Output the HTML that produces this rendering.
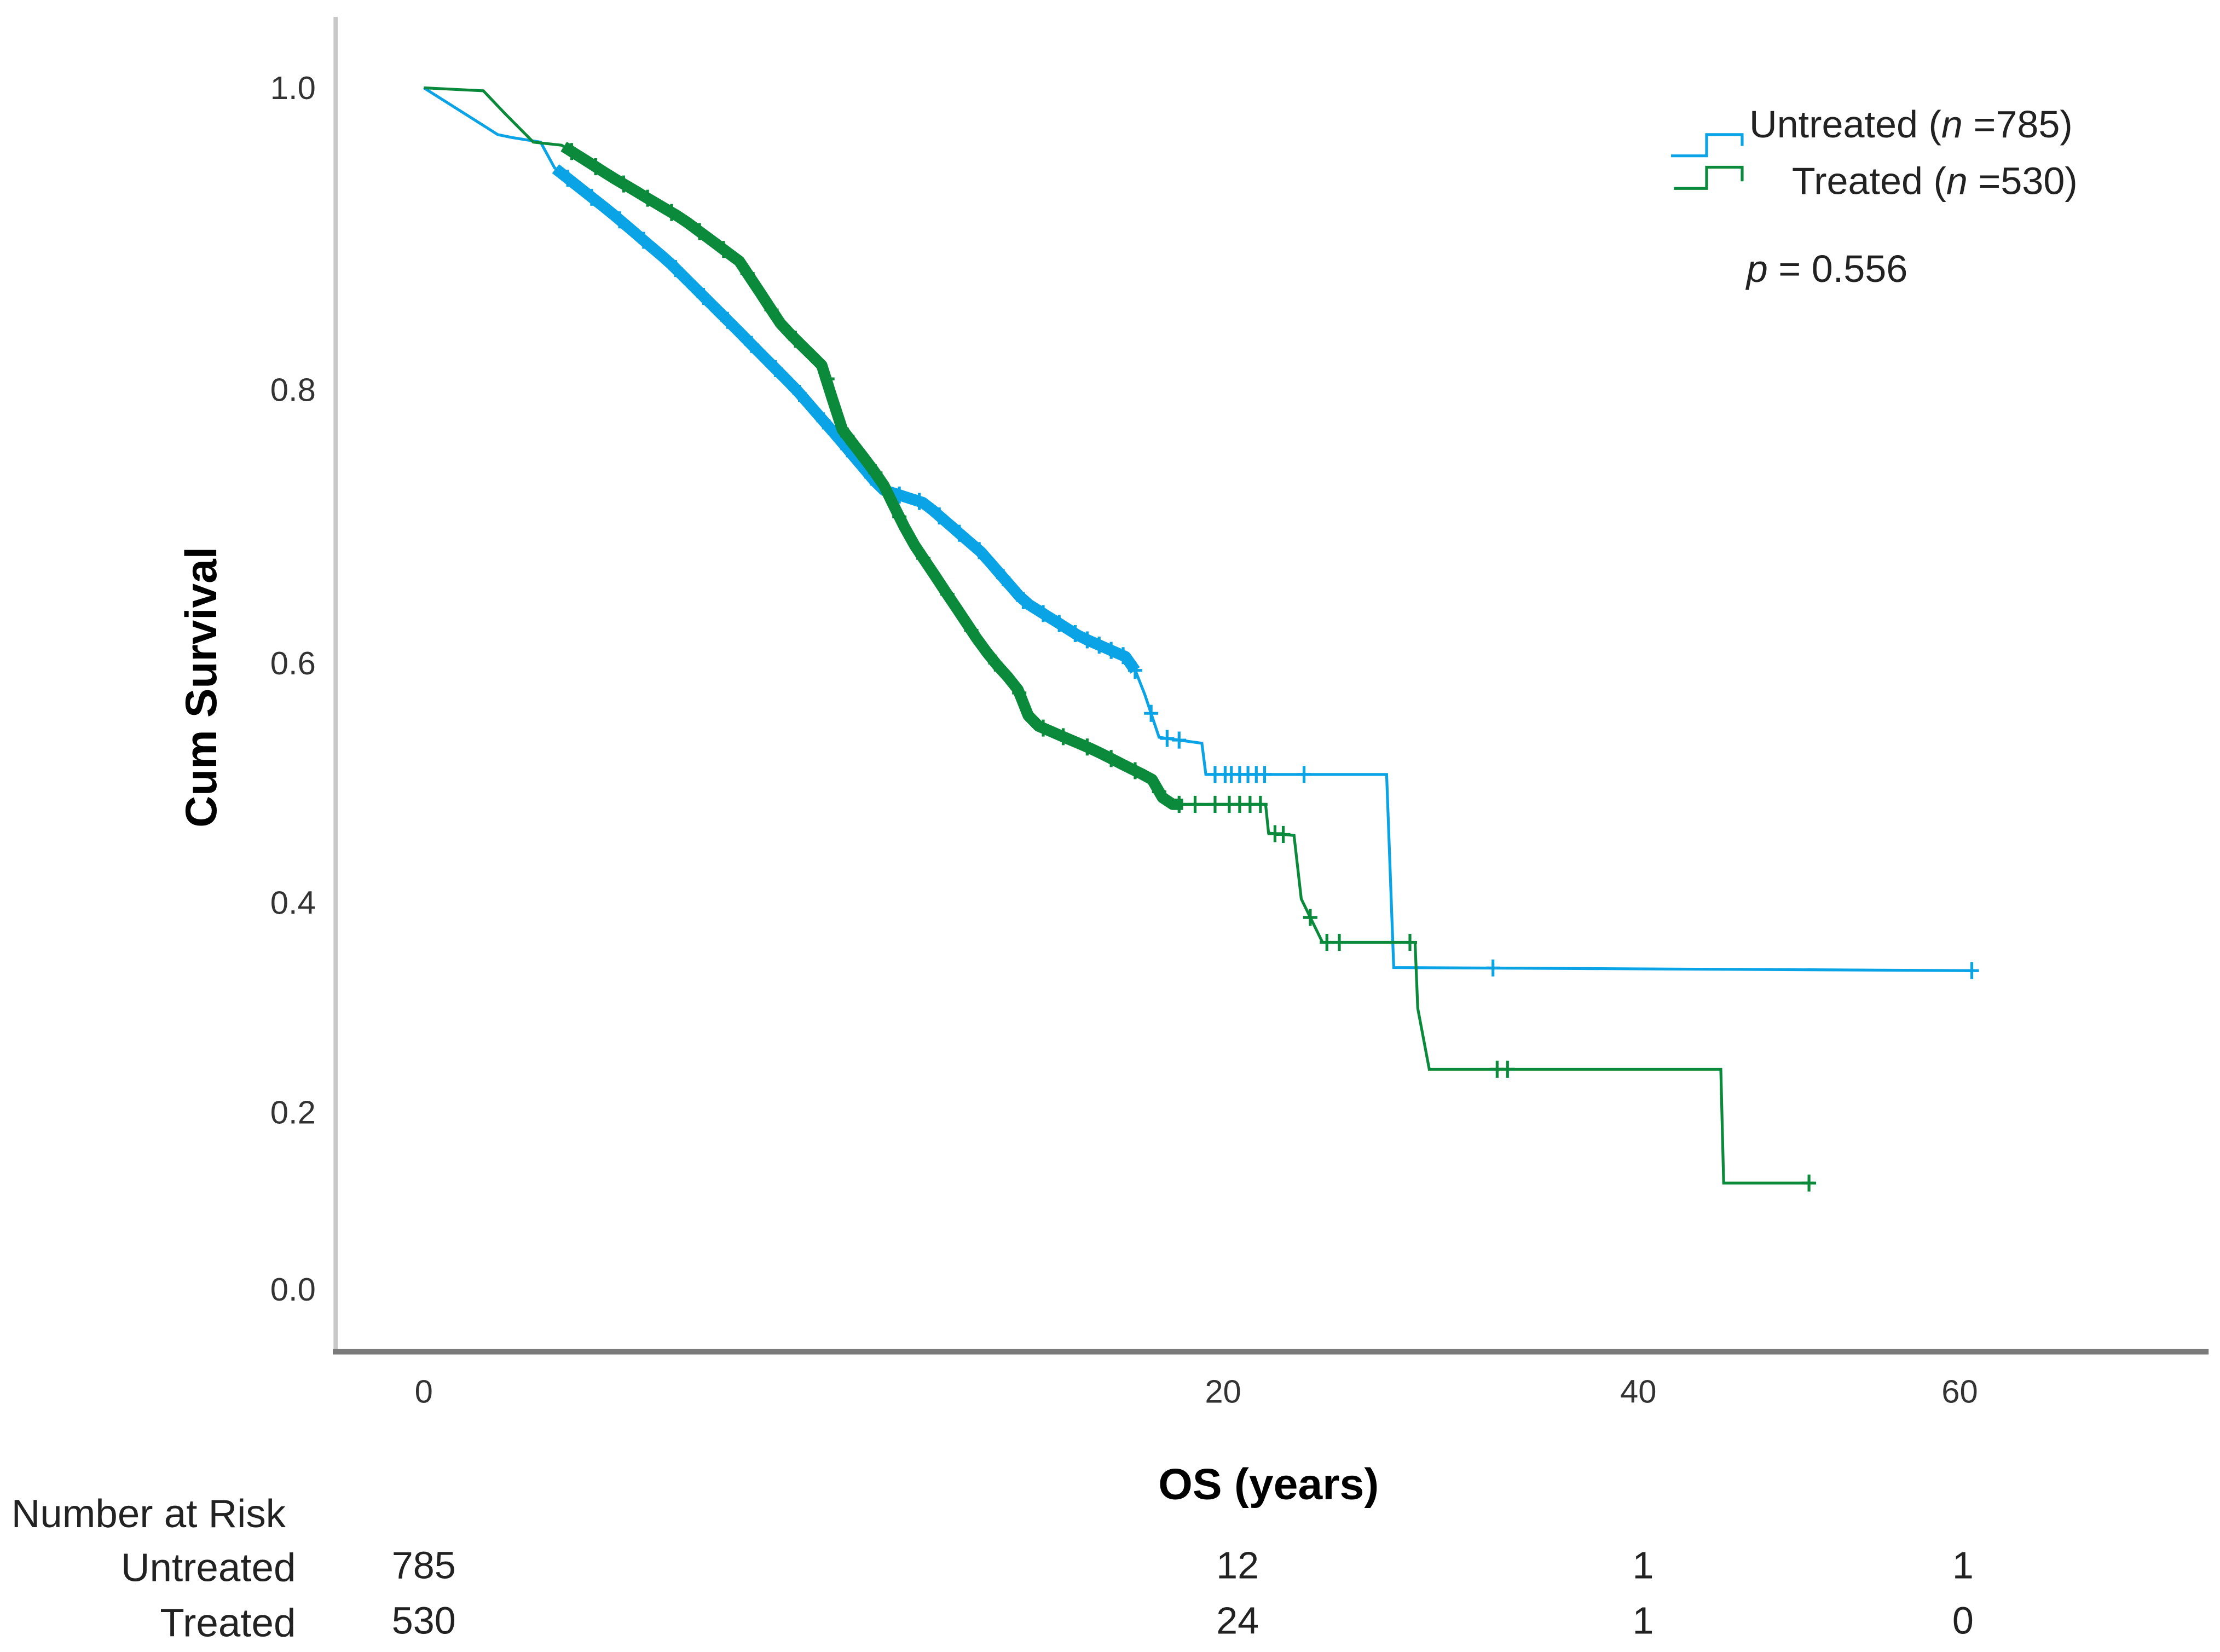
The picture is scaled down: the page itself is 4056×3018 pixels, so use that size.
<!DOCTYPE html>
<html><head><meta charset="utf-8"><style>
html,body{margin:0;padding:0;background:#fff;}
svg{display:block;}
text{font-family:"Liberation Sans Narrow","Liberation Sans",sans-serif;}
</style></head><body>
<svg id="chart" width="4056" height="3018" viewBox="0 0 1561 1166" preserveAspectRatio="none" xmlns="http://www.w3.org/2000/svg">
<rect x="0" y="0" width="1561" height="1166" fill="#fff"/>
<line x1="236" y1="12" x2="236" y2="954" stroke="#c8c8c8" stroke-width="3"/>
<line x1="234" y1="954" x2="1553" y2="954" stroke="#7a7a7a" stroke-width="4"/>
<g id="yticks"></g>
<g id="xticks"></g>
<text x="152" y="485" transform="rotate(-90 152 485)" text-anchor="middle" font-size="31" font-weight="bold" fill="#000">Cum Survival</text>
<text x="892" y="1058" text-anchor="middle" font-size="31" font-weight="bold" fill="#000">OS (years)</text>
<g id="curves"></g>
<g>
<path d="M1175,110 H1200 V95 H1225 V103" fill="none" stroke="#0aa3e6" stroke-width="2"/>
<text x="1230" y="97" font-size="27" fill="#222">Untreated (<tspan font-style="italic">n</tspan> =785)</text>
<path d="M1177,133 H1200 V118 H1225 V128" fill="none" stroke="#0a8a3a" stroke-width="2"/>
<text x="1260" y="137" font-size="27" fill="#222">Treated (<tspan font-style="italic">n</tspan> =530)</text>
<text x="1228" y="199" font-size="27" fill="#222"><tspan font-style="italic">p</tspan> = 0.556</text>
</g>
<g>
<text x="8" y="1078" font-size="28" fill="#222">Number at Risk</text>
<text x="208" y="1116" text-anchor="end" font-size="28" fill="#222">Untreated</text>
<text x="208" y="1155" text-anchor="end" font-size="28" fill="#222">Treated</text>
<g id="riskvals"></g>
</g>
</svg>
<script>
const yTickVals=[0.0,0.2,0.4,0.6,0.8,1.0];
const yTickLabels=["0.0","0.2","0.4","0.6","0.8","1.0"];
const xTickVals=[0,20,40,60];
const xTickLabels=["0","20","40","60"];
const untreatedTimes=[0,1.85,2.21,2.92,3.27,4.70,6.12,7.90,9.32,10.39,11.46,12.53,13.95,15.02,16.44,17.69,18.04,18.40,19.47,19.57,27.88,28.22,60.75];
const untreatedSurv=[1.0,0.969,0.967,0.964,0.947,0.917,0.885,0.838,0.80,0.764,0.727,0.717,0.681,0.645,0.619,0.603,0.574,0.538,0.533,0.507,0.507,0.338,0.335];
const treatedTimes=[0,1.49,2.03,2.74,3.45,4.70,6.48,7.90,8.97,10.04,10.39,11.46,12.17,12.88,13.95,14.84,15.20,16.80,18.22,18.58,22.05,22.19,23.42,23.77,24.79,29.25,29.38,29.93,45.13,45.31,50.62];
const treatedSurv=[1.0,0.998,0.983,0.964,0.962,0.941,0.913,0.885,0.842,0.814,0.774,0.733,0.691,0.660,0.613,0.580,0.550,0.527,0.503,0.482,0.482,0.458,0.456,0.403,0.362,0.362,0.299,0.241,0.241,0.12,0.12];
const untreatedDense=[3.3,17.8];
const treatedDense=[3.5,19.0];
const untreatedCensor=[3.6,4.2,4.9,5.5,6.3,7.0,7.6,8.2,8.8,9.4,10.0,10.6,11.2,11.9,12.4,12.9,13.4,13.9,14.5,15.0,15.5,15.9,16.3,16.6,16.9,17.2,17.5,17.8,18.2,18.6,18.9,19.8,20.1,20.4,20.8,21.2,21.6,22.0,23.9,33.0,60.75];
const treatedCensor=[3.7,4.3,5.0,5.6,6.2,6.9,7.5,8.1,8.7,9.3,10.1,10.6,11.3,11.9,12.5,13.1,13.7,14.3,14.9,15.5,16.0,16.6,17.2,17.8,18.4,18.9,19.3,19.8,20.3,20.8,21.3,21.8,22.5,22.9,24.2,25.0,25.6,29.0,33.2,33.7,50.62];
const riskUntreated=["785","12","1","1"];
const riskTreated=["530","24","1","0"];
const riskX=[0,20.7,40.3,60.2];

const xD=[0,20,40,60], xP=[298,860,1152,1378];
const yD=[0,0.2,0.4,0.6,0.8,1.0], yP=[910,785,637,468,275,62];
function pw(v,d,p){let i=0;while(i<d.length-2&&v>d[i+1])i++;return p[i]+(v-d[i])/(d[i+1]-d[i])*(p[i+1]-p[i]);}
function xs(t){return pw(t,xD,xP);}
function ys(s){return pw(s,yD,yP);}
function survAt(T,S,t){for(let i=T.length-1;i>=0;i--){if(t>=T[i]){if(i===T.length-1)return S[i];return S[i]+(t-T[i])/(T[i+1]-T[i])*(S[i+1]-S[i]);}}return S[0];}
const NS="http://www.w3.org/2000/svg";
function mk(tag,attrs,parent){const e=document.createElementNS(NS,tag);for(const k in attrs)e.setAttribute(k,attrs[k]);parent.appendChild(e);return e;}
const yt=document.getElementById('yticks');
yTickVals.forEach((v,i)=>{const t=mk('text',{x:222,y:ys(v)+8,'text-anchor':'end','font-size':23,fill:'#333'},yt);t.textContent=yTickLabels[i];

});
const xt=document.getElementById('xticks');
xTickVals.forEach((v,i)=>{const t=mk('text',{x:xs(v),y:990,'text-anchor':'middle','font-size':23,fill:'#333'},xt);t.textContent=xTickLabels[i];

});
const cg=document.getElementById('curves');
function drawSeries(T,S,dense,cens,color,name){
  const g=mk('g',{},cg);
  
  
  const pts=T.map((t,i)=>xs(t).toFixed(1)+','+ys(S[i]).toFixed(1)).join(' ');
  const l=mk('polyline',{points:pts,fill:'none',stroke:color,'stroke-width':2},g);
  
  
  const dp=[];for(let k=0;k<=60;k++){const t=dense[0]+(dense[1]-dense[0])*k/60;dp.push(xs(t).toFixed(1)+','+ys(survAt(T,S,t)).toFixed(1));}
  const d=mk('polyline',{points:dp.join(' '),fill:'none',stroke:color,'stroke-width':8,'stroke-linejoin':'round'},g);
  
  
  cens.forEach(t=>{const x=xs(t),y=ys(survAt(T,S,t));
    const c=mk('path',{d:`M${x-5},${y} H${x+5} M${x},${y-6} V${y+6}`,stroke:color,'stroke-width':2},g);
    
    });
}
drawSeries(untreatedTimes,untreatedSurv,untreatedDense,untreatedCensor,'#0aa3e6','untreated');
drawSeries(treatedTimes,treatedSurv,treatedDense,treatedCensor,'#0a8a3a','treated');
const rv=document.getElementById('riskvals');
riskX.forEach((t,i)=>{
  const a=mk('text',{x:xs(t),y:1114,'text-anchor':'middle','font-size':27,fill:'#222'},rv);a.textContent=riskUntreated[i];
  
  
  const b=mk('text',{x:xs(t),y:1153,'text-anchor':'middle','font-size':27,fill:'#222'},rv);b.textContent=riskTreated[i];
  
  
});
</script>
</body></html>
